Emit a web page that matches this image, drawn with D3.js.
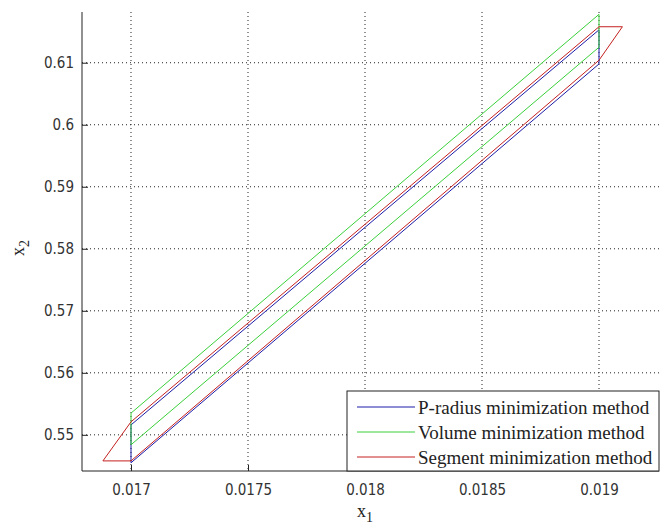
<!DOCTYPE html>
<html>
<head>
<meta charset="utf-8">
<script src="https://cdn.jsdelivr.net/npm/d3@7"></script>
<style>
  body { margin: 0; background: #fff; }
  svg { display: block; }
</style>
</head>
<body>
<div id="chart"></div>
<script>
// axis limits and ticks
const xLim = [0.0167906, 0.0192564]
const yLim = [0.54417, 0.618178]
const xTicks = [0.017, 0.0175, 0.018, 0.0185, 0.019]
const yTicks = [0.55, 0.56, 0.57, 0.58, 0.59, 0.6, 0.61]

const methods = [
  'P-radius minimization method',
  'Volume minimization method',
  'Segment minimization method'
]

// polygon vertices
const pradiusX1 = [0.017, 0.019, 0.019, 0.017]
const pradiusX2 = [0.5455, 0.6098, 0.6153, 0.5516]
const volumeX1 = [0.017, 0.019, 0.019, 0.017]
const volumeX2 = [0.5484, 0.6125, 0.6178, 0.5535]
const segmentX1 = [0.01688, 0.017, 0.019, 0.0191, 0.019, 0.017]
const segmentX2 = [0.5458, 0.5458, 0.6104, 0.6158, 0.6158, 0.5521]

const colors = ['#1c1ca8', '#3ad03a', '#c42020']

const W = 664, H = 529
const margin = {top: 12, right: 5, bottom: 58, left: 82}
const width = W - margin.left - margin.right
const height = H - margin.top - margin.bottom

const svg = d3.select('#chart').append('svg')
  .attr('width', W)
  .attr('height', H)

const g = svg.append('g')
  .attr('transform', 'translate(' + margin.left + ',' + margin.top + ')')

const x = d3.scaleLinear().domain(xLim).range([0, width])
const y = d3.scaleLinear().domain(yLim).range([height, 0])

const tickFont = '"Liberation Sans Narrow", "DejaVu Sans Condensed", "Liberation Sans", sans-serif'
const serif = '"Liberation Serif", "DejaVu Serif", serif'

// dotted grid
g.selectAll('.vgrid')
  .data(xTicks)
  .enter()
  .append('line')
  .attr('x1', d => x(d)).attr('x2', d => x(d))
  .attr('y1', 0).attr('y2', height)
  .attr('stroke', '#222')
  .attr('stroke-width', 1)
  .attr('stroke-dasharray', '1,3')

g.selectAll('.hgrid')
  .data(yTicks)
  .enter()
  .append('line')
  .attr('x1', 0).attr('x2', width)
  .attr('y1', d => y(d)).attr('y2', d => y(d))
  .attr('stroke', '#222')
  .attr('stroke-width', 1)
  .attr('stroke-dasharray', '1,3')

// sets
const line = d3.line()
  .x(d => x(d[0]))
  .y(d => y(d[1]))
  .curve(d3.curveLinearClosed)

const shapes = [
  d3.zip(pradiusX1, pradiusX2),
  d3.zip(volumeX1, volumeX2),
  d3.zip(segmentX1, segmentX2)
]

g.selectAll('.shape')
  .data(shapes)
  .enter()
  .append('path')
  .attr('d', d => line(d))
  .attr('fill', 'none')
  .attr('stroke', (d, i) => colors[i])
  .attr('stroke-width', 1)

// axes (ticks inside, like matlab)
const xAxis = g.append('g')
  .attr('transform', 'translate(0,' + height + ')')
  .call(d3.axisBottom(x).tickValues(xTicks).tickSize(-6).tickPadding(13).tickFormat(d3.format('')))
const yAxis = g.append('g')
  .call(d3.axisLeft(y).tickValues(yTicks).tickSize(-6).tickPadding(8).tickFormat(d3.format('')))

;[xAxis, yAxis].forEach(a => {
  a.select('.domain').attr('stroke', '#222')
  a.selectAll('.tick line').attr('stroke', '#222')
  a.selectAll('text')
    .attr('fill', '#333')
    .style('font-family', tickFont)
    .style('font-size', '15px')
})
xAxis.select('.domain').attr('d', 'M0,0H' + width)
yAxis.select('.domain').attr('d', 'M0,' + height + 'V0')

// legend
const lgX = x(0.018) - 18
const lg = g.append('g')
  .attr('transform', 'translate(' + lgX + ',' + (height - 80) + ')')
lg.append('rect')
  .attr('width', width - lgX)
  .attr('height', 80)
  .attr('fill', '#fff')
  .attr('stroke', '#222')
  .attr('stroke-width', 1)

methods.forEach(function(m, i) {
  const yy = 16 + i * 25
  lg.append('line')
    .attr('x1', 10).attr('x2', 68)
    .attr('y1', yy).attr('y2', yy)
    .attr('stroke', colors[i])
    .attr('stroke-width', 1)
  lg.append('text')
    .attr('x', 71)
    .attr('y', yy)
    .attr('dy', '0.35em')
    .style('font-family', serif)
    .style('font-size', '19px')
    .attr('fill', '#222')
    .text(m)
})

// axis labels
const xl = svg.append('text')
  .attr('x', margin.left + x(0.018))
  .attr('y', 517)
  .attr('text-anchor', 'middle')
  .style('font-family', serif)
  .style('font-size', '18px')
  .attr('fill', '#222')
xl.append('tspan').text('x')
xl.append('tspan').attr('dy', 5).style('font-size', '14px').text('1')

const yl = svg.append('text')
  .attr('transform', 'translate(24,248)rotate(-90)')
  .attr('text-anchor', 'middle')
  .style('font-family', serif)
  .style('font-size', '18px')
  .attr('fill', '#222')
yl.append('tspan').text('x')
yl.append('tspan').attr('dy', 5).style('font-size', '14px').text('2')
</script>
</body>
</html>
